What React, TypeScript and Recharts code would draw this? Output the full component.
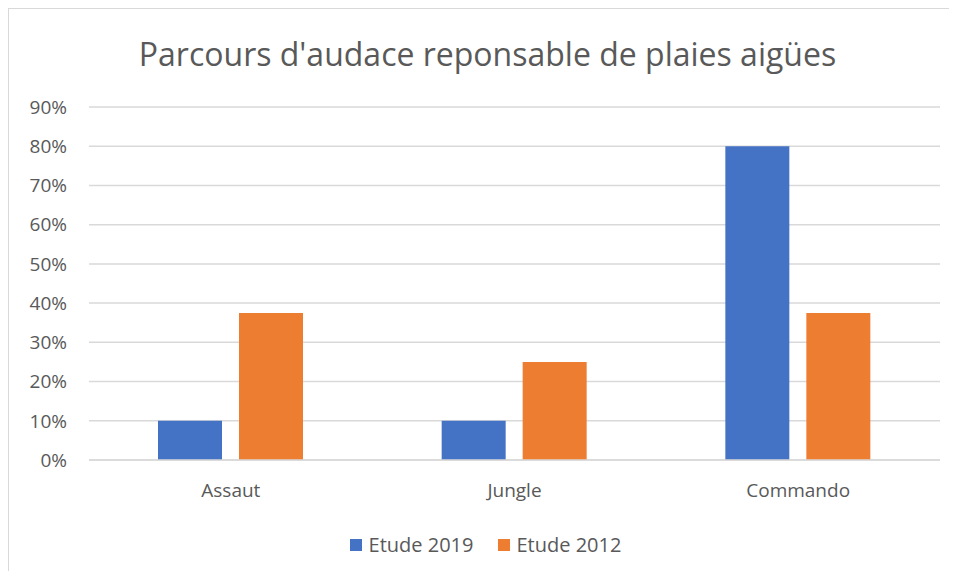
import React from "react";
import { BarChart, Bar, XAxis, YAxis, CartesianGrid, Legend } from "recharts";

const categories = ["Assaut", "Jungle", "Commando"];
const etude2019 = [0.1, 0.1, 0.8];
const etude2012 = [0.375, 0.25, 0.375];
const yTicks = [0, 0.1, 0.2, 0.3, 0.4, 0.5, 0.6, 0.7, 0.8, 0.9];
const title = "Parcours d'audace reponsable de plaies aigües";
const series = [
  { key: "e2019", name: "Etude 2019", color: "#4472C4" },
  { key: "e2012", name: "Etude 2012", color: "#ED7D31" },
];

const data = categories.map((c, i) => ({ name: c, e2019: etude2019[i], e2012: etude2012[i] }));

const FONT = "'Open Sans', 'Noto Sans', sans-serif";
const TEXT = "#595959";

const LegendContent = () => (
  <div style={{ display: "flex", justifyContent: "center", alignItems: "center", fontSize: 20, fontFamily: FONT, color: TEXT, paddingLeft: 14, gap: 24 }}>
    {series.map((s) => (
      <div key={s.key} style={{ display: "flex", alignItems: "center" }}>
        <span style={{ display: "inline-block", width: 12, height: 12, background: s.color, marginRight: 7 }} />
        <span>{s.name}</span>
      </div>
    ))}
  </div>
);

export default function App() {
  return (
    <div style={{ position: "relative", margin: -8, width: 957, height: 579, overflow: "hidden", background: "#fff", fontFamily: FONT }}>
      <div style={{ position: "absolute", left: 7, top: 7, width: 1000, height: 1000, border: "2px solid #d9d9d9", boxSizing: "border-box" }} />
      <div style={{ position: "absolute", left: 0, top: 32, width: 975, textAlign: "center", fontSize: 32, color: TEXT, fontFamily: FONT, lineHeight: "44px" }}>
        {title}
      </div>
      <div style={{ position: "absolute", left: 0, top: 0 }}>
        <BarChart width={957} height={579} data={data} margin={{ top: 107, right: 17, bottom: 52, left: 0 }} barSize={64} barGap={17}>
          <CartesianGrid vertical={false} stroke="#d9d9d9" strokeWidth={1.5} />
          <XAxis dataKey="name" axisLine={{ stroke: "#d9d9d9", strokeWidth: 1.5 }} tickLine={false} height={40} tickSize={0} tickMargin={24}
            tick={{ fill: TEXT, fontSize: 19, fontFamily: FONT }} />
          <YAxis domain={[0, 0.9]} ticks={yTicks} axisLine={false} tickLine={false} width={89} tickSize={0} tickMargin={22}
            tickFormatter={(v: number) => `${Math.round(v * 100)}%`} tick={{ fill: TEXT, fontSize: 19, fontFamily: FONT }} />
          <Legend verticalAlign="bottom" align="center" content={<LegendContent />}
            wrapperStyle={{ position: "absolute", top: 531, left: 0, width: 957 }} />
          {series.map((s) => (
            <Bar key={s.key} dataKey={s.key} name={s.name} fill={s.color} isAnimationActive={false} />
          ))}
        </BarChart>
      </div>
    </div>
  );
}
